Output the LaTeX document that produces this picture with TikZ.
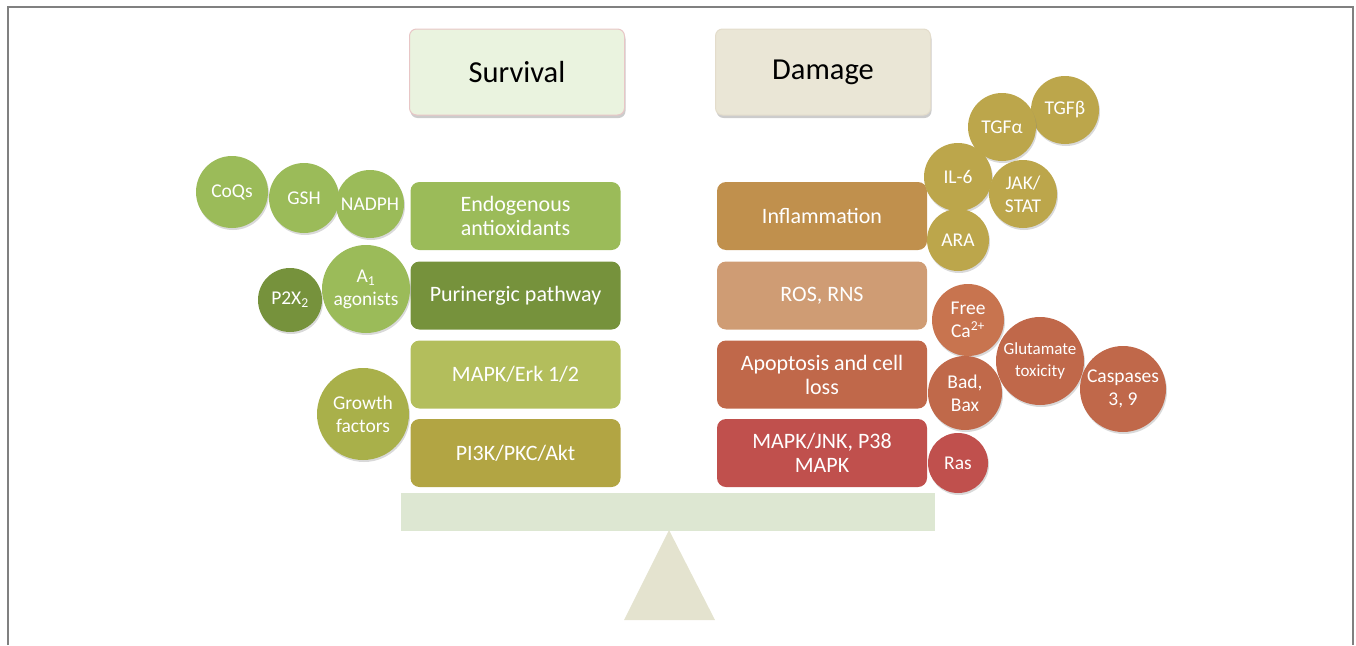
\documentclass[tikz,border=0pt]{standalone}
\usepackage{fontspec}
\setmainfont{Carlito}
\usetikzlibrary{shadows}
\definecolor{endo}{HTML}{9BBB59}
\definecolor{puri}{HTML}{76923C}
\definecolor{mapke}{HTML}{B3BE5C}
\definecolor{pik}{HTML}{B2A543}
\definecolor{infl}{HTML}{C0904D}
\definecolor{ros}{HTML}{CF9C74}
\definecolor{apop}{HTML}{C0684A}
\definecolor{jnk}{HTML}{C0504D}
\definecolor{gold}{HTML}{BCA64B}
\definecolor{growth}{HTML}{A9B04A}
\definecolor{freeca}{HTML}{C8744F}
\definecolor{survfill}{HTML}{EAF3DF}
\definecolor{survline}{HTML}{E8C6C6}
\definecolor{damfill}{HTML}{EAE6D6}
\definecolor{damline}{HTML}{E3DCCB}
\definecolor{beam}{HTML}{DDE7D2}
\definecolor{fulcrum}{HTML}{E4E3CF}
\definecolor{frame}{HTML}{808080}
\tikzset{
  titlebox/.style={rounded corners=7pt, minimum width=215pt, minimum height=86pt,
    font=\fontsize{30.5}{36}\selectfont, text=black, line width=1pt,
    drop shadow={shadow xshift=1pt, shadow yshift=-3pt, opacity=0.4}},
  pathbox/.style={rounded corners=9pt, minimum width=210pt, minimum height=68pt,
    font=\fontsize{22}{24}\selectfont, text=white, align=center, inner sep=2pt},
  bubble/.style={circle, inner sep=0pt, text=white, align=center,
    font=\fontsize{19.5}{23}\selectfont,
    drop shadow={shadow xshift=1pt, shadow yshift=-2pt, opacity=0.3}},
}
\begin{document}
\begin{tikzpicture}[x=1pt,y=-1pt]
\useasboundingbox (0,0) rectangle (1356,645);
% frame
\draw[frame, line width=1.5pt] (8,645) -- (8,7) -- (1353,7) -- (1353,645);

% title boxes
\node[titlebox, fill=survfill, draw=survline] (surv) at (517,72) {Survival};
\node[titlebox, fill=damfill, draw=damline] (dam) at (823,72) {Damage};

% left pathway boxes
\node[pathbox, fill=endo] (endo) at (515.5,216) {Endogenous\\antioxidants};
\node[pathbox, fill=puri] (puri) at (515.5,295.5) {Purinergic pathway};
\node[pathbox, fill=mapke] (erk) at (515.5,374.5) {MAPK/Erk 1/2};
\node[pathbox, fill=pik] (pi3k) at (515.5,453) {PI3K/PKC/Akt};

% right pathway boxes
\node[pathbox, fill=infl] (infl) at (822,216) {Inflammation};
\node[pathbox, fill=ros] (ros) at (822,295.5) {ROS, RNS};
\node[pathbox, fill=apop] (apop) at (822,374.5) {Apoptosis and cell\\loss};
\node[pathbox, fill=jnk] (jnk) at (822,453) {MAPK/JNK, P38\\MAPK};

% left bubbles
\node[bubble, fill=endo, minimum size=72pt] (coq) at (232,192) {CoQs};
\node[bubble, fill=endo, minimum size=70pt] (gsh) at (304,198) {GSH};
\node[bubble, fill=endo, minimum size=68pt] (nadph) at (370,204) {NADPH};
\node[bubble, fill=puri, minimum size=64pt] (p2x) at (290,300) {P2X\textsubscript{2}};
\node[bubble, fill=endo, minimum size=88pt] (a1) at (366,289) {A\textsubscript{1}\\agonists};
\node[bubble, fill=growth, minimum size=92pt] (gf) at (363,414) {Growth\\factors};

% right upper bubbles
\node[bubble, fill=gold, minimum size=68pt] (tgfb) at (1065,110) {TGFβ};
\node[bubble, fill=gold, minimum size=68pt] (tgfa) at (1002,127) {TGFα};
\node[bubble, fill=gold, minimum size=68pt] (il6) at (958,177) {IL-6};
\node[bubble, fill=gold, minimum size=68pt] (jak) at (1023,194) {JAK/\\STAT};
\node[bubble, fill=gold, minimum size=62pt] (ara) at (958,240) {ARA};

% right lower bubbles
\node[bubble, fill=freeca, minimum size=72pt] (ca) at (968,320) {Free\\Ca\textsuperscript{2+}};
\node[bubble, fill=apop, minimum size=88pt, font=\fontsize{17}{22}\selectfont] (glu) at (1040,361) {Glutamate\\toxicity};
\node[bubble, fill=apop, minimum size=86pt] (casp) at (1123,389) {Caspases\\3, 9};
\node[bubble, fill=apop!95!freeca, minimum size=74pt] (bad) at (965,393) {Bad,\\Bax};
\node[bubble, fill=jnk, minimum size=60pt] (ras) at (958,463) {Ras};

% balance
\node[fill=beam, minimum width=534pt, minimum height=38pt, inner sep=0pt] (beamnode) at (668,512) {};
\fill[fulcrum] (669,530) -- (715,620) -- (624,620) -- cycle;
\end{tikzpicture}
\end{document}
